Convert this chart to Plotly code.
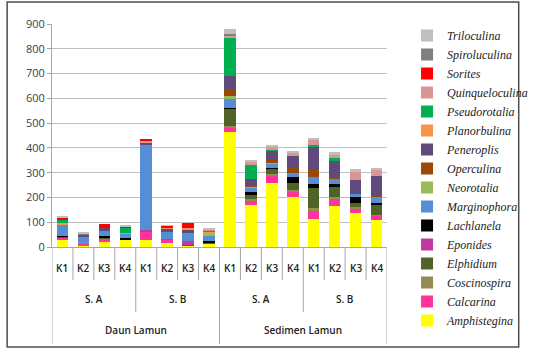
import plotly.graph_objects as go

# ---- data ----
k_labels = ["K1", "K2", "K3", "K4"] * 4
site_labels = ["S. A", "S. B", "S. A", "S. B"]
group_labels = ["Daun Lamun", "Sedimen Lamun"]

species = ["Amphistegina", "Calcarina", "Coscinospira", "Elphidium", "Eponides",
           "Lachlanela", "Marginophora", "Neorotalia", "Operculina", "Peneroplis",
           "Planorbulina", "Pseudorotalia", "Quinqueloculina", "Sorites",
           "Spiroluculina", "Triloculina"]

amphistegina    = [30, 8, 20, 30, 30, 15, 5, 15, 465, 168, 258, 200, 113, 167, 136, 110]
calcarina       = [8, 4, 15, 0, 30, 15, 0, 0, 17, 20, 27, 24, 33, 30, 21, 17]
coscinospira    = [0, 0, 0, 0, 0, 0, 0, 0, 5, 5, 9, 5, 13, 5, 3, 3]
elphidium       = [5, 0, 3, 2, 0, 0, 3, 3, 71, 17, 21, 31, 78, 40, 19, 40]
eponides        = [0, 0, 0, 0, 10, 2, 15, 0, 0, 0, 0, 0, 0, 0, 0, 0]
lachlanela      = [3, 0, 5, 3, 0, 0, 0, 5, 5, 13, 4, 23, 16, 13, 24, 7]
marginophora    = [45, 30, 25, 20, 345, 30, 35, 20, 35, 17, 17, 17, 29, 20, 9, 27]
neorotalia      = [0, 0, 0, 3, 0, 0, 0, 10, 13, 3, 3, 0, 0, 0, 0, 0]
operculina      = [0, 0, 0, 0, 0, 3, 0, 0, 27, 9, 13, 20, 27, 9, 0, 5]
peneroplis      = [0, 7, 8, 0, 5, 8, 12, 0, 54, 23, 36, 47, 97, 64, 60, 78]
planorbulina    = [5, 0, 0, 0, 0, 7, 8, 8, 0, 0, 0, 0, 0, 0, 0, 0]
pseudorotalia   = [15, 0, 0, 20, 0, 0, 0, 5, 150, 54, 3, 0, 5, 11, 0, 0]
quinqueloculina = [0, 3, 0, 0, 8, 0, 0, 5, 13, 17, 13, 13, 21, 16, 31, 23]
sorites         = [10, 0, 15, 5, 8, 5, 20, 0, 0, 0, 0, 0, 0, 0, 0, 0]
spiroluculina   = [0, 2, 0, 0, 0, 0, 0, 0, 3, 0, 2, 0, 0, 0, 0, 0]
triloculina     = [3, 3, 0, 2, 0, 2, 0, 3, 20, 5, 5, 8, 8, 8, 10, 10]

series = [amphistegina, calcarina, coscinospira, elphidium, eponides, lachlanela,
          marginophora, neorotalia, operculina, peneroplis, planorbulina,
          pseudorotalia, quinqueloculina, sorites, spiroluculina, triloculina]

colors = ["#FFFF00", "#FF3399", "#948A54", "#4F6228", "#C0399F", "#000000",
          "#558ED5", "#9BBB59", "#984807", "#604A7B", "#F79646", "#00B050",
          "#D99694", "#FF0000", "#7F7F7F", "#BFBFBF"]

x = list(range(len(k_labels)))

fig = go.Figure()
for name, vals, col in zip(species, series, colors):
    fig.add_trace(go.Bar(x=x, y=vals, name=name, marker=dict(color=col, line=dict(width=0))))

# plot area pixel geometry
L, R, T, B = 52, 403, 24, 247
W, H = 545, 351
ph = B - T

def py(p):  # pixel y -> paper y
    return (B - p) / ph

lab_font = dict(family="Open Sans, Liberation Sans, sans-serif", size=10, color="#222", weight=600)
ann = []
for i, k in enumerate(k_labels):
    ann.append(dict(x=i, y=py(268), xref="x", yref="paper", text=k, showarrow=False,
                    font=lab_font, xanchor="center", yanchor="middle"))
for j, s in enumerate(site_labels):
    ann.append(dict(x=4 * j + 1.5, y=py(299), xref="x", yref="paper", text=s, showarrow=False,
                    font=lab_font, xanchor="center", yanchor="middle"))
for j, g in enumerate(group_labels):
    ann.append(dict(x=8 * j + 3.5, y=py(330), xref="x", yref="paper", text=g, showarrow=False,
                    font=lab_font, xanchor="center", yanchor="middle"))

shapes = []
line_col = "#A6A6A6"
for b in range(17):
    xb = b - 0.5
    if b % 8 == 0:
        y_end = 344
    elif b % 4 == 0:
        y_end = 312
    else:
        y_end = 280
    shapes.append(dict(type="line", xref="x", yref="paper", x0=xb, x1=xb,
                       y0=py(247), y1=py(y_end), line=dict(color=line_col, width=1)))
# outer frame
shapes.append(dict(type="rect", xref="paper", yref="paper",
                   x0=(5 - L) / (R - L), x1=(541 - L) / (R - L),
                   y0=py(347), y1=py(2), line=dict(color="#4D4D4D", width=1.5)))

fig.update_layout(
    width=W, height=H,
    margin=dict(l=L, r=W - R, t=T, b=H - B, pad=0),
    barmode="stack", bargap=0.45,
    plot_bgcolor="white", paper_bgcolor="white",
    showlegend=True,
    legend=dict(traceorder="reversed", x=(424 - L) / (R - L), y=py(21),
                xanchor="left", yanchor="top", maxheight=345,
                font=dict(family="Liberation Serif, serif", size=12, color="#222", style="italic"),
                itemwidth=30, tracegroupgap=0, bgcolor="rgba(0,0,0,0)"),
    annotations=ann, shapes=shapes,
    xaxis=dict(range=[-0.5, 15.5], showticklabels=False, showgrid=False, zeroline=False,
               showline=True, linecolor=line_col, ticks=""),
    yaxis=dict(range=[0, 900], dtick=100, showgrid=True, gridcolor="#BFBFBF", gridwidth=1,
               zeroline=False, showline=True, linecolor=line_col, ticks="outside",
               ticklen=4, tickcolor=line_col,
               tickfont=dict(family="Open Sans, Liberation Sans, sans-serif", size=11, color="#404040")),
    font=dict(family="Open Sans, Liberation Sans, sans-serif"),
)

fig.write_html("out.html")
